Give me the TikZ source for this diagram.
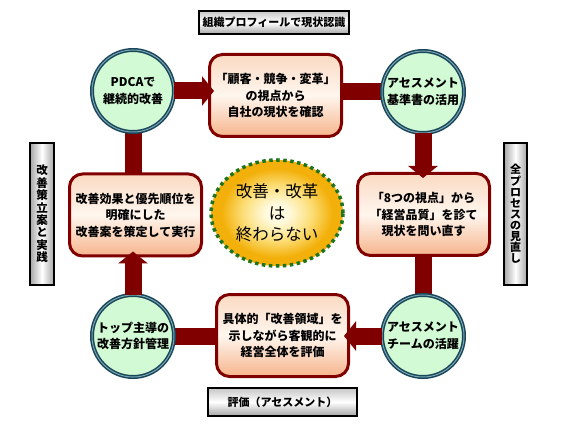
\documentclass[tikz,border=0pt]{standalone}
\usepackage{fontspec}
\setmainfont{Noto Sans CJK JP}
\usepackage{xcolor}
\usepackage{tikz}
\usetikzlibrary{
    positioning,
    arrows.meta,
    shapes.geometric,
    backgrounds
}
\definecolor{barRed}{RGB}{128, 0, 0}
\definecolor{ringTeal}{RGB}{25, 70, 90}
\definecolor{ringLight}{RGB}{120, 165, 175}
\definecolor{leafGreen}{RGB}{210, 250, 212}
\definecolor{peachTop}{RGB}{250, 218, 195}
\definecolor{peachMid}{RGB}{255, 246, 238}
\definecolor{peachBot}{RGB}{246, 180, 140}
\definecolor{sunCore}{RGB}{255, 250, 222}
\definecolor{sunMid}{RGB}{252, 222, 120}
\definecolor{sunOrange}{RGB}{243, 176, 10}
\definecolor{dotGreen}{RGB}{30, 115, 30}
\pgfdeclareradialshading{sunGlow}{\pgfpoint{0bp}{0bp}}{color(0bp)=(sunCore); color(4.5bp)=(sunCore); color(13bp)=(sunMid); color(21bp)=(sunOrange); color(50bp)=(sunOrange)}

\begin{document}
\begin{tikzpicture}[x=1pt, y=-1pt, >=stealth,
    stagebox/.style={draw=barRed, line width=3pt, rounded corners=13pt,
        top color=peachTop, bottom color=peachBot, middle color=peachMid,
        minimum width=132pt, minimum height=82pt, inner sep=0pt, align=center,
        font=\fontsize{12}{16.5}\selectfont\bfseries},
    keyring/.style={circle, draw=ringTeal, line width=1.5pt, double=ringLight,
        double distance=1pt, fill=leafGreen, minimum size=82pt, inner sep=0pt,
        align=center, font=\fontsize{12}{16.5}\selectfont\bfseries},
    sunnode/.style={ellipse, shading=sunGlow, draw=dotGreen, line width=3.5pt,
        dash pattern=on 3.5pt off 3.5pt, minimum width=132pt, minimum height=106pt,
        inner sep=0pt, align=center, font=\fontsize{16.5}{21.5}\selectfont},
    tagbar/.style={draw=black, line width=1.2pt, top color=gray!45,
        bottom color=gray!70, middle color=white, inner sep=0pt,
        font=\fontsize{11}{12}\selectfont\bfseries},
    tagpost/.style={draw=black, line width=1.2pt, left color=gray!70,
        right color=gray!70, middle color=white, inner sep=0pt, align=center,
        minimum height=142pt},
    bar/.style={barRed, line width=17pt},
    flow/.style={bar, -{Triangle[width=29pt, length=12pt]}, shorten >=-6pt, shorten <=-1pt}]

    \useasboundingbox (0,0) rectangle (570,430);

    \node[tagbar, minimum width=150pt, minimum height=23pt] (tagTop) at (274,22.5) {組織プロフィールで現状認識};
    \node[tagbar, minimum width=149pt, minimum height=28pt] (tagBot) at (282.5,402) {評価（アセスメント）};
    \node[tagpost, minimum width=24pt, font=\fontsize{11.5}{12.4}\selectfont\bfseries] (tagLeft) at (42,214)
        {改\\善\\策\\立\\案\\と\\実\\践};
    \node[tagpost, minimum width=23pt, font=\fontsize{11}{11.1}\selectfont\bfseries] (tagRight) at (515.5,214)
        {全\\プ\\ロ\\セ\\ス\\の\\見\\直\\し};

    \node[stagebox] (boxT) at (275.5,95.5) {「顧客・競争・変革」\\の視点から\\自社の現状を確認};
    \node[stagebox] (boxR) at (423.5,214.5) {「8つの視点」から\\「経営品質」を診て\\現状を問い直す};
    \node[stagebox] (boxB) at (282.5,335.5) {具体的「改善領域」を\\示しながら客観的に\\経営全体を評価};
    \node[stagebox] (boxL) at (135.5,215) {改善効果と優先順位を\\明確にした\\改善案を策定して実行};

    \node[keyring] (ringTL) at (133,91) {PDCAで\\継続的改善};
    \node[keyring] (ringTR) at (423,92) {アセスメント\\基準書の活用};
    \node[keyring] (ringBR) at (423,336) {アセスメント\\チームの活躍};
    \node[keyring] (ringBL) at (133,336) {トップ主導の\\改善方針管理};

    \node[sunnode] (sun) at (277,213) {改善・改革\\は\\終わらない};

    \begin{scope}[on background layer]
        \draw[bar] (ringTR) -- (ringTR -| boxT.center);
        \draw[bar] (ringBR) -- (ringBR |- boxR.center);
        \draw[bar] (ringBL) -- (ringBL -| boxB.center);
        \draw[bar] (ringTL) -- (ringTL |- boxL.center);
    \end{scope}

    \draw[flow] (ringTL.east) -- (ringTL.east -| boxT.west);
    \draw[flow] (ringTR.south) -- (ringTR.south |- boxR.north);
    \draw[flow] (ringBR.west) -- (ringBR.west -| boxB.east);
    \draw[flow] (ringBL.north) -- (ringBL.north |- boxL.south);
\end{tikzpicture}
\end{document}
